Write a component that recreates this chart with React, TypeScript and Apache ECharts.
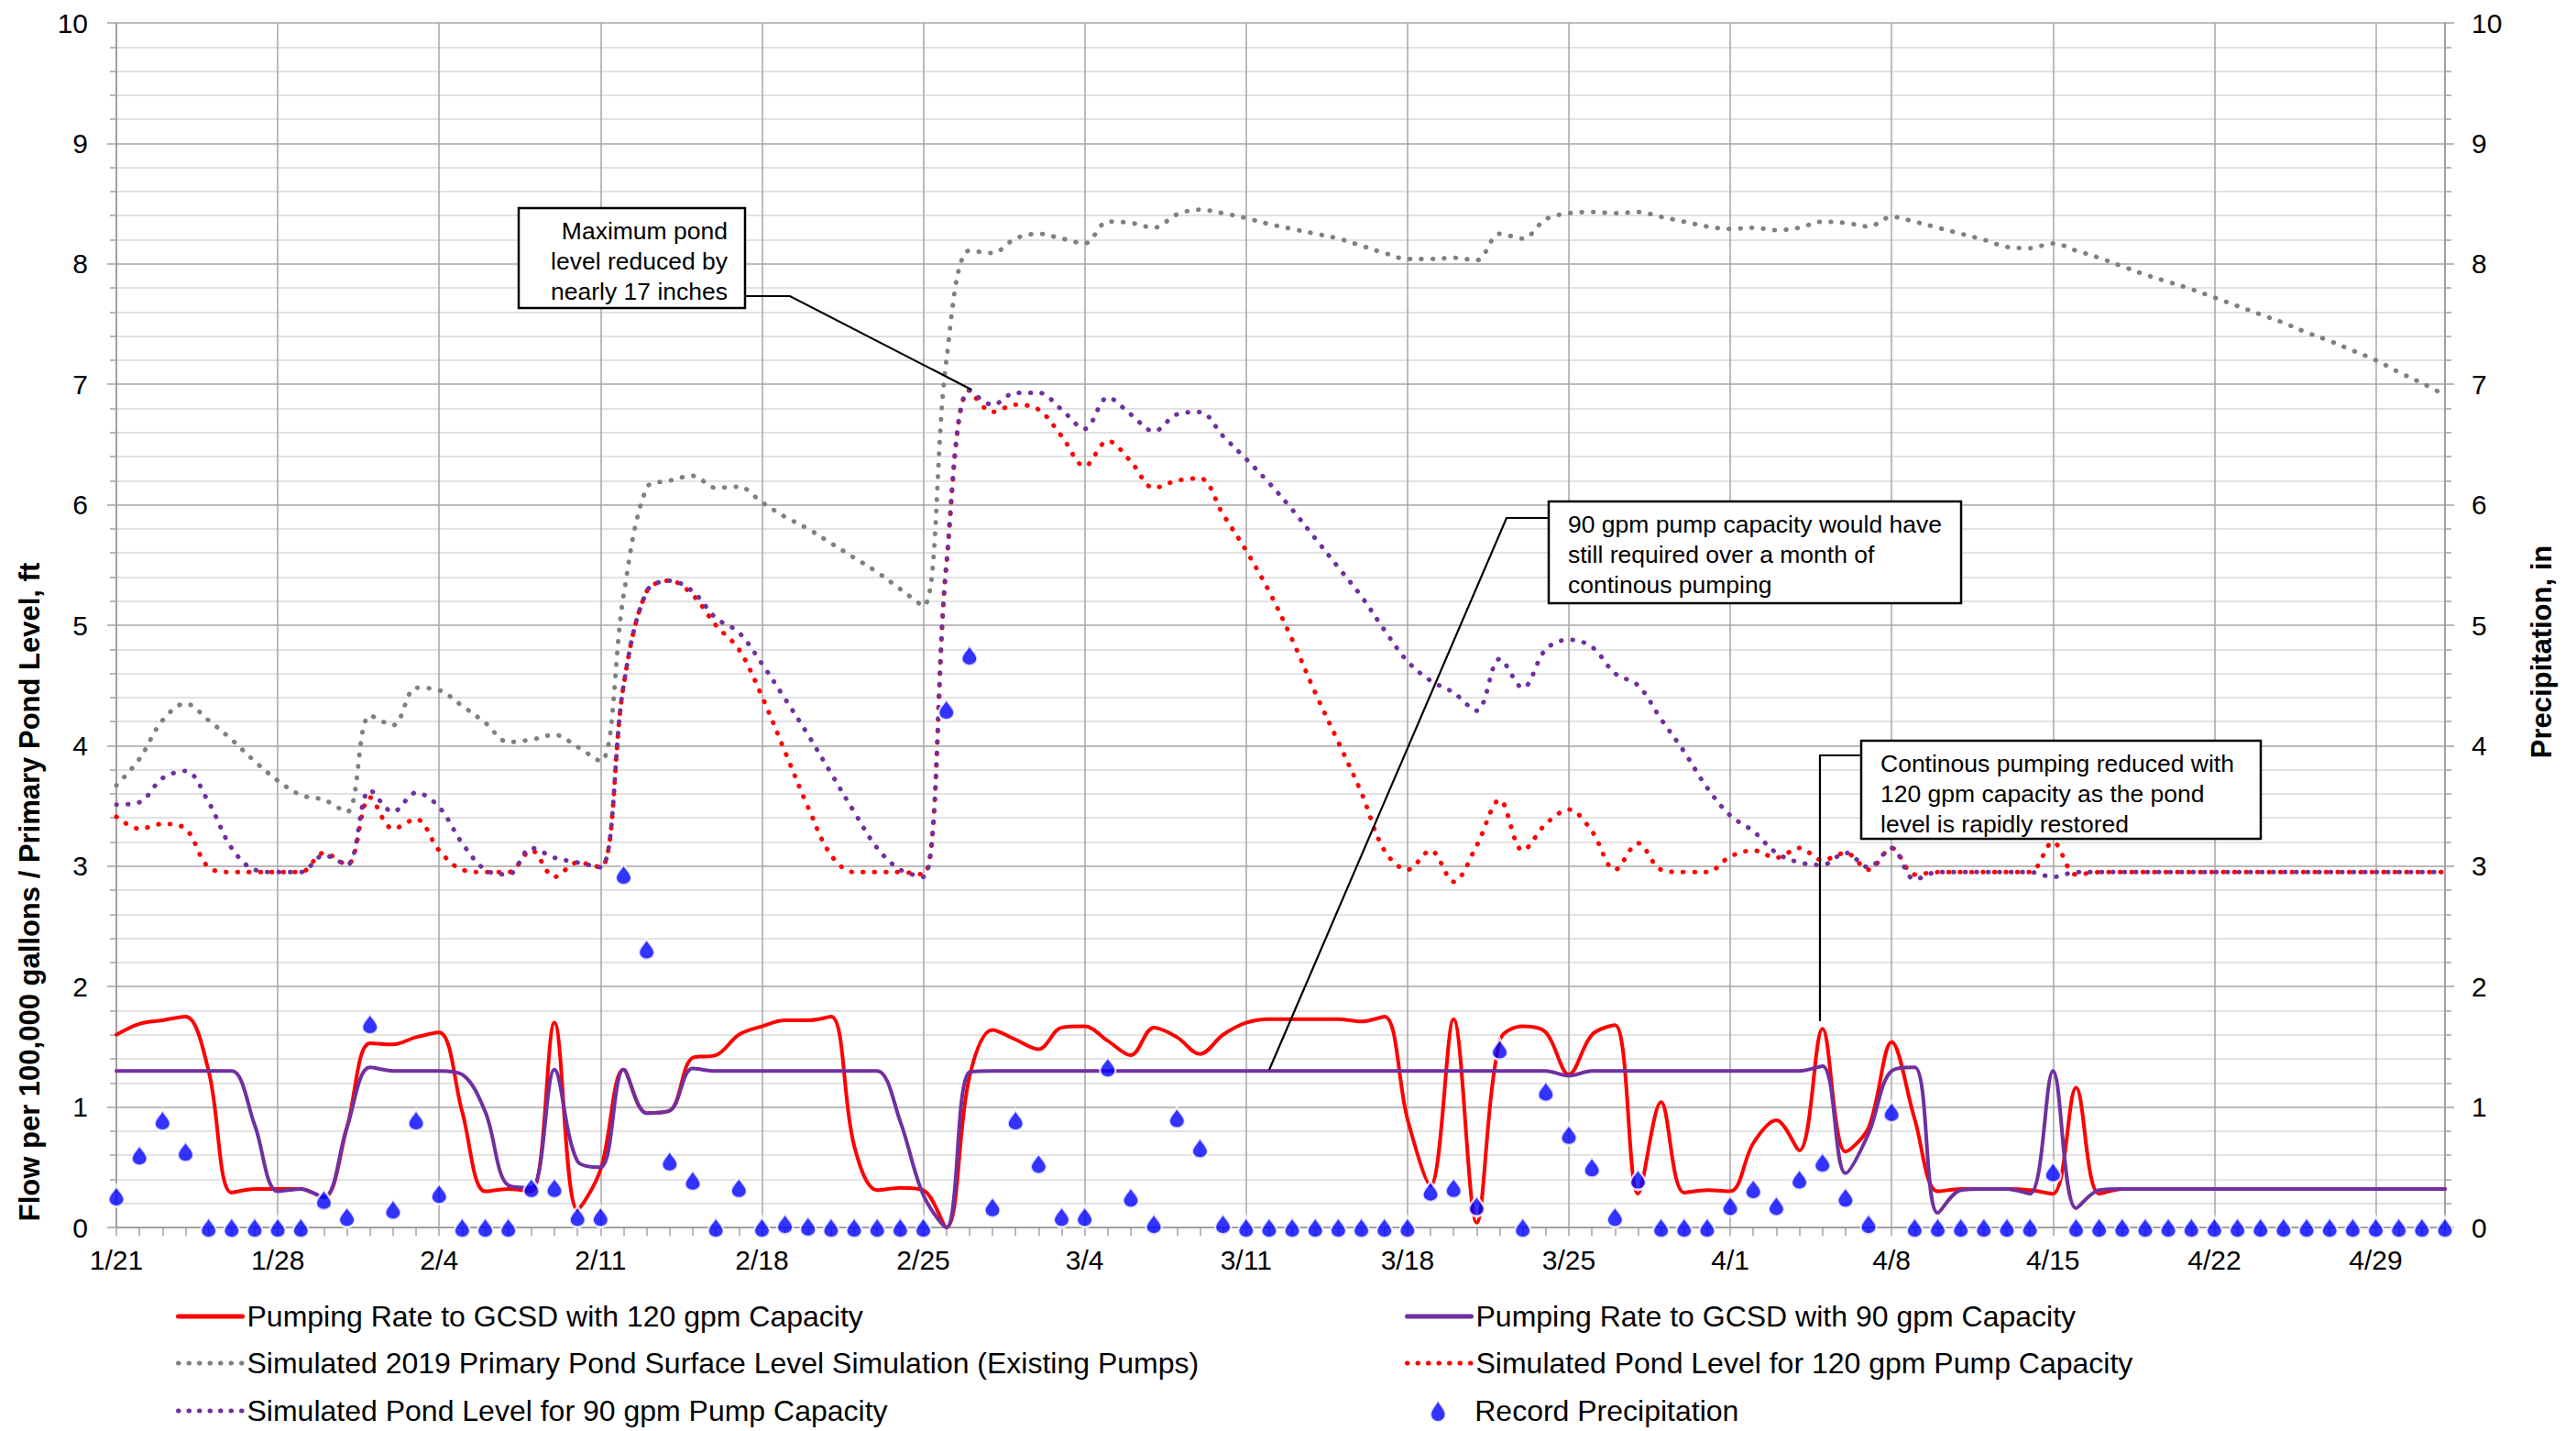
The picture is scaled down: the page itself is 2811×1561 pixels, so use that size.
import React, { useEffect, useRef } from "react";
import * as echarts from "echarts";

const FONT = "Liberation Sans";

// Category axis: one entry per day from 1/21/2019 through 5/2/2019
const NUM_DAYS = 102;
const dayLabels: string[] = Array.from({ length: NUM_DAYS }, (_, i) => {
  const d = new Date(2019, 0, 21 + i);
  return `${d.getMonth() + 1}/${d.getDate()}`;
});

const seriesNames = [
  "Pumping Rate to GCSD with 120 gpm Capacity",
  "Pumping Rate to GCSD with 90 gpm Capacity",
  "Simulated 2019 Primary Pond Surface Level Simulation (Existing Pumps)",
  "Simulated Pond Level for 120 gpm Pump Capacity",
  "Simulated Pond Level for 90 gpm Pump Capacity",
  "Record Precipitation",
];

// Flow per 100,000 gallons, 120 gpm capacity
const pump120 = [
  1.6, 1.69, 1.72, 1.75, 1.3, 0.29, 0.32, 0.32, 0.32, 0.25,
  0.83, 1.53, 1.52, 1.58, 1.62, 0.96, 0.3, 0.32, 0.3, 1.7,
  0.15, 0.48, 1.31, 0.95, 0.97, 1.41, 1.43, 1.6, 1.67, 1.72,
  1.72, 1.75, 0.68, 0.31, 0.33, 0.31, 0, 1.25, 1.64, 1.56,
  1.48, 1.66, 1.67, 1.55, 1.43, 1.66, 1.58, 1.44, 1.6, 1.7,
  1.73, 1.73, 1.73, 1.73, 1.71, 1.75, 0.9, 0.35, 1.73, 0.04,
  1.55, 1.67, 1.62, 1.27, 1.6, 1.68, 0.28, 1.04, 0.29, 0.31,
  0.3, 0.7, 0.89, 0.64, 1.65, 0.63, 0.83, 1.54, 0.9, 0.3,
  0.32, 0.32, 0.32, 0.31, 0.28, 1.16, 0.28, 0.32, 0.32, 0.32,
  0.32, 0.32, 0.32, 0.32, 0.32, 0.32, 0.32, 0.32, 0.32, 0.32,
  0.32, 0.32,
];

// Flow per 100,000 gallons, 90 gpm capacity
const pump90 = [
  1.3, 1.3, 1.3, 1.3, 1.3, 1.3, 0.85, 0.3, 0.32, 0.25,
  0.83, 1.33, 1.3, 1.3, 1.3, 1.27, 0.96, 0.35, 0.33, 1.31,
  0.55, 0.5, 1.31, 0.95, 0.97, 1.32, 1.3, 1.3, 1.3, 1.3,
  1.3, 1.3, 1.3, 1.3, 0.88, 0.27, 0, 1.29, 1.3, 1.3,
  1.3, 1.3, 1.3, 1.3, 1.3, 1.3, 1.3, 1.3, 1.3, 1.3,
  1.3, 1.3, 1.3, 1.3, 1.3, 1.3, 1.3, 1.3, 1.3, 1.3,
  1.3, 1.3, 1.3, 1.26, 1.3, 1.3, 1.3, 1.3, 1.3, 1.3,
  1.3, 1.3, 1.3, 1.3, 1.34, 0.45, 0.78, 1.3, 1.33, 0.12,
  0.31, 0.32, 0.32, 0.28, 1.3, 0.16, 0.31, 0.32, 0.32, 0.32,
  0.32, 0.32, 0.32, 0.32, 0.32, 0.32, 0.32, 0.32, 0.32, 0.32,
  0.32, 0.32,
];

// Pond level, ft - existing pumps
const levelExisting = [
  3.67, 3.89, 4.21, 4.35, 4.21, 4.05, 3.87, 3.71, 3.59, 3.55,
  3.45, 4.25, 4.17, 4.48, 4.46, 4.33, 4.19, 4.03, 4.05, 4.09,
  3.99, 3.87, 5.25, 6.14, 6.2, 6.24, 6.14, 6.15, 6.02, 5.9,
  5.8, 5.68, 5.56, 5.44, 5.3, 5.16, 7.2, 8.11, 8.09, 8.21,
  8.25, 8.21, 8.17, 8.35, 8.34, 8.3, 8.41, 8.45, 8.42, 8.38,
  8.33, 8.29, 8.25, 8.21, 8.15, 8.09, 8.04, 8.04, 8.05, 8.03,
  8.25, 8.21, 8.37, 8.42, 8.43, 8.42, 8.43, 8.39, 8.35, 8.31,
  8.29, 8.3, 8.28, 8.3, 8.35, 8.34, 8.31, 8.39, 8.35, 8.3,
  8.25, 8.2, 8.14, 8.13, 8.17, 8.11, 8.05, 7.98, 7.91, 7.85,
  7.79, 7.72, 7.65, 7.58, 7.51, 7.43, 7.36, 7.28, 7.2, 7.1,
  7.01, 6.91,
];

// Pond level, ft - 120 gpm capacity
const level120 = [
  3.41, 3.31, 3.35, 3.31, 2.99, 2.95, 2.95, 2.95, 2.95, 3.11,
  3.01, 3.57, 3.31, 3.39, 3.13, 2.97, 2.95, 2.95, 3.13, 2.91,
  3.03, 2.99, 4.5, 5.28, 5.37, 5.25, 5.0, 4.8, 4.41, 3.95,
  3.49, 3.09, 2.95, 2.95, 2.95, 2.93, 5.5, 6.95, 6.77, 6.83,
  6.79, 6.57, 6.32, 6.53, 6.36, 6.14, 6.2, 6.22, 5.92, 5.62,
  5.28, 4.88, 4.44, 4.03, 3.61, 3.13, 2.97, 3.13, 2.87, 3.17,
  3.55, 3.13, 3.35, 3.47, 3.29, 2.97, 3.19, 2.97, 2.95, 2.95,
  3.08, 3.13, 3.07, 3.15, 3.05, 3.11, 2.97, 3.15, 2.93, 2.95,
  2.95, 2.95, 2.95, 2.95, 3.2, 2.93, 2.95, 2.95, 2.95, 2.95,
  2.95, 2.95, 2.95, 2.95, 2.95, 2.95, 2.95, 2.95, 2.95, 2.95,
  2.95, 2.95,
];

// Pond level, ft - 90 gpm capacity
const level90 = [
  3.51, 3.53, 3.73, 3.79, 3.53, 3.15, 2.97, 2.95, 2.95, 3.09,
  3.01, 3.63, 3.45, 3.61, 3.49, 3.19, 2.97, 2.93, 3.15, 3.07,
  3.03, 2.99, 4.5, 5.28, 5.37, 5.28, 5.06, 4.94, 4.68, 4.39,
  4.09, 3.77, 3.45, 3.15, 2.97, 2.91, 5.5, 6.95, 6.83, 6.93,
  6.93, 6.79, 6.63, 6.89, 6.75, 6.61, 6.75, 6.77, 6.57, 6.38,
  6.18, 5.96, 5.72, 5.48, 5.24, 4.96, 4.7, 4.54, 4.44, 4.29,
  4.72, 4.48, 4.8, 4.88, 4.82, 4.6, 4.5, 4.22, 3.95, 3.65,
  3.42, 3.29, 3.11, 3.03, 3.01, 3.11, 2.99, 3.15, 2.89, 2.95,
  2.95, 2.95, 2.95, 2.95, 2.91, 2.95, 2.95, 2.95, 2.95, 2.95,
  2.95, 2.95, 2.95, 2.95, 2.95, 2.95, 2.95, 2.95, 2.95, 2.95,
  2.95, 2.95,
];

// Daily precipitation, in
const precipitation = [
  0.26, 0.6, 0.89, 0.63, 0, 0, 0, 0, 0, 0.23,
  0.09, 1.69, 0.15, 0.89, 0.28, 0, 0, 0, 0.33, 0.33,
  0.09, 0.09, 2.93, 2.31, 0.55, 0.39, 0, 0.33, 0, 0.03,
  0.01, 0, 0, 0, 0, 0, 4.3, 4.75, 0.17, 0.89,
  0.53, 0.09, 0.09, 1.33, 0.25, 0.03, 0.91, 0.66, 0.03, 0,
  0, 0, 0, 0, 0, 0, 0, 0.3, 0.33, 0.18,
  1.48, 0, 1.13, 0.77, 0.5, 0.09, 0.4, 0, 0, 0,
  0.18, 0.32, 0.18, 0.4, 0.54, 0.25, 0.03, 0.96, 0, 0,
  0, 0, 0, 0, 0.46, 0, 0, 0, 0, 0,
  0, 0, 0, 0, 0, 0, 0, 0, 0, 0,
  0, 0,
];

const DROP =
  "path://M50,0 C58,28 100,58 100,96 C100,124 78,146 50,146 C22,146 0,124 0,96 C0,58 42,28 50,0 Z";

const RED = "#FF0000";
const PURPLE = "#7030A0";
const GRAY = "#808080";
const BLUE = "#0000FF";
const DOTS = [0.5, 12];
const LEGEND_DOTS = [0.5, 11];

export default function App() {
  const ref = useRef<HTMLDivElement>(null);

  useEffect(() => {
    document.body.style.margin = "0";
    if (!ref.current) return;
    const chart = echarts.init(ref.current, undefined, { renderer: "svg" });

    const lineSeries = (
      name: string,
      data: number[],
      color: string,
      dotted: boolean
    ) => ({
      name,
      type: "line",
      data,
      smooth: 0.35,
      symbol: "none",
      showSymbol: false,
      yAxisIndex: 0,
      itemStyle: { color },
      lineStyle: dotted
        ? { color, width: 5, type: DOTS, cap: "round" }
        : { color, width: 4, cap: "round" },
      z: 2,
    });

    const legendBase = {
      orient: "horizontal",
      itemWidth: 70,
      itemHeight: 14,
      padding: 0,
      selectedMode: false,
      itemStyle: { opacity: 0 },
      textStyle: { fontSize: 32, color: "#000", fontFamily: FONT },
    };
    const solidLegendLine = { width: 5, type: "solid", cap: "round" };
    const dottedLegendLine = { width: 5, type: LEGEND_DOTS, cap: "round" };
    const col1 = 192;
    const col2 = 1533;
    const rows = [1437, 1488, 1540];

    const axisGray = "#A0A0A0";
    const tickStyle = { color: axisGray, width: 1.5 };

    const annotationText = (
      text: string,
      x: number,
      y: number,
      align: string
    ) => ({
      type: "text",
      x,
      y,
      z: 101,
      style: {
        text,
        fontSize: 26.5,
        fontFamily: FONT,
        lineHeight: 33,
        fill: "#000",
        align,
        verticalAlign: "top",
      },
    });
    const box = (x: number, y: number, w: number, h: number) => ({
      type: "rect",
      z: 100,
      shape: { x, y, width: w, height: h },
      style: { fill: "#fff", stroke: "#000", lineWidth: 2.5 },
    });
    const leader = (points: number[][]) => ({
      type: "polyline",
      z: 100,
      shape: { points },
      style: { stroke: "#000", lineWidth: 2.2, fill: null },
    });

    const option = {
      animation: false,
      backgroundColor: "#fff",
      textStyle: { fontFamily: FONT },
      grid: {
        left: 127,
        right: 143,
        top: 25,
        bottom: 222,
        containLabel: false,
        outerBoundsMode: "none",
      },
      xAxis: {
        type: "category",
        data: dayLabels,
        boundaryGap: false,
        axisLine: { show: true, lineStyle: { color: axisGray, width: 2 } },
        axisTick: { show: true, interval: 0, length: 9, lineStyle: tickStyle },
        axisLabel: {
          interval: (i: number) => i % 7 === 0,
          fontSize: 30,
          color: "#000",
          margin: 20,
          fontFamily: FONT,
        },
        splitLine: {
          show: true,
          interval: (i: number) => i % 7 === 0,
          lineStyle: { color: "#A6A6A6", width: 1.5 },
        },
      },
      yAxis: [
        {
          type: "value",
          min: 0,
          max: 10,
          interval: 1,
          position: "left",
          axisLine: { show: true, lineStyle: { color: axisGray, width: 2 } },
          axisTick: { show: true, inside: false, length: 10, lineStyle: tickStyle },
          minorTick: { show: true, splitNumber: 5, length: 7, lineStyle: tickStyle },
          splitLine: { show: true, lineStyle: { color: "#A6A6A6", width: 1.5 } },
          minorSplitLine: { show: true, lineStyle: { color: "#D9D9D9", width: 1.5 } },
          axisLabel: { fontSize: 30, color: "#000", margin: 31, fontFamily: FONT },
        },
        {
          type: "value",
          min: 0,
          max: 10,
          interval: 1,
          position: "right",
          axisLine: { show: true, lineStyle: { color: axisGray, width: 2 } },
          axisTick: { show: true, inside: false, length: 10, lineStyle: tickStyle },
          minorTick: { show: true, splitNumber: 5, length: 7, lineStyle: tickStyle },
          splitLine: { show: false },
          minorSplitLine: { show: false },
          axisLabel: { fontSize: 30, color: "#000", margin: 29, fontFamily: FONT },
        },
      ],
      legend: [
        { ...legendBase, lineStyle: solidLegendLine, left: col1, top: rows[0] - 17, data: [seriesNames[0]] },
        { ...legendBase, lineStyle: solidLegendLine, left: col2, top: rows[0] - 17, data: [seriesNames[1]] },
        { ...legendBase, lineStyle: dottedLegendLine, left: col1, top: rows[1] - 17, data: [seriesNames[2]] },
        { ...legendBase, lineStyle: dottedLegendLine, left: col2, top: rows[1] - 17, data: [seriesNames[3]] },
        { ...legendBase, lineStyle: dottedLegendLine, left: col1, top: rows[2] - 17, data: [seriesNames[4]] },
        {
          ...legendBase,
          itemStyle: {},
          left: col2 + 27,
          top: rows[2] - 17,
          itemHeight: 24,
          data: [{ name: seriesNames[5], icon: DROP }],
        },
      ],
      series: [
        lineSeries(seriesNames[0], pump120, RED, false),
        lineSeries(seriesNames[1], pump90, PURPLE, false),
        lineSeries(seriesNames[2], levelExisting, GRAY, true),
        lineSeries(seriesNames[3], level120, RED, true),
        lineSeries(seriesNames[4], level90, PURPLE, true),
        {
          name: seriesNames[5],
          type: "scatter",
          yAxisIndex: 1,
          data: precipitation,
          symbol: DROP,
          symbolSize: [17, 23],
          itemStyle: { color: BLUE, borderColor: "#fff", borderWidth: 2.5 },
          z: 5,
        },
      ],
      graphic: [
        {
          type: "text",
          x: 32,
          y: 973,
          rotation: Math.PI / 2,
          style: {
            text: "Flow per 100,000 gallons / Primary Pond Level, ft",
            fontSize: 31,
            fontWeight: "bold",
            fontFamily: FONT,
            fill: "#000",
            align: "center",
            verticalAlign: "middle",
          },
        },
        {
          type: "text",
          x: 2773,
          y: 711,
          rotation: Math.PI / 2,
          style: {
            text: "Precipitation, in",
            fontSize: 31,
            fontWeight: "bold",
            fontFamily: FONT,
            fill: "#000",
            align: "center",
            verticalAlign: "middle",
          },
        },
        leader([[813, 323], [862, 323], [1060, 425]]),
        box(566, 227, 247, 109),
        annotationText("Maximum pond\nlevel reduced by\nnearly 17 inches", 794, 235, "right"),
        leader([[1690, 565], [1644, 565], [1385, 1167]]),
        box(1690, 547, 450, 111),
        annotationText(
          "90 gpm pump capacity would have\nstill required over a month of\ncontinous pumping",
          1711,
          555,
          "left"
        ),
        leader([[2031, 824], [1986, 824], [1986, 1114]]),
        box(2031, 808, 436, 107),
        annotationText(
          "Continous pumping reduced with\n120 gpm capacity as the pond\nlevel is rapidly restored",
          2052,
          816,
          "left"
        ),
      ],
    };

    chart.setOption(option as any);
    return () => chart.dispose();
  }, []);

  return (
    <div
      ref={ref}
      style={{ position: "absolute", left: 0, top: 0, width: 2811, height: 1561 }}
    />
  );
}
